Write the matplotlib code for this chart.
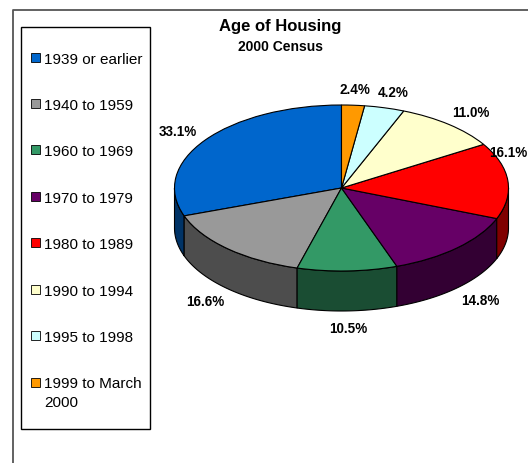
import numpy as np
import matplotlib
matplotlib.use("Agg")
import matplotlib.pyplot as plt
from matplotlib.colors import to_rgb
from matplotlib.lines import Line2D
from matplotlib.patches import Polygon, Rectangle

plt.rcParams["font.family"] = ["Liberation Sans", "DejaVu Sans"]

# --- data -------------------------------------------------------------------
TITLE = "Age of Housing"
SUBTITLE = "2000 Census"
periods = ["1939 or earlier", "1940 to 1959", "1960 to 1969", "1970 to 1979",
           "1980 to 1989", "1990 to 1994", "1995 to 1998", "1999 to March\n2000"]
shares = [33.1, 16.6, 10.5, 14.8, 16.1, 11.0, 4.2, 2.4]
top_colors = ["#0066CC", "#999999", "#339966", "#660066",
              "#FF0000", "#FFFFCC", "#CCFFFF", "#FF9900"]

# --- layout (pixels, origin top-left) ---------------------------------------
W, H = 528, 464
CX, CY = 341.5, 189      # pie centre
RX, RY = 167, 83         # ellipse half-axes
DEPTH = 40               # thickness of the 3-d disc
LINE_STEP = 19           # legend line height for wrapped labels
FRAME = "#555555"


def fx(px):
    return px / W


def fy(py):
    return 1 - py / H


fig = plt.figure(figsize=(W / 100, H / 100), dpi=100)
ax = fig.add_axes([0, 0, 1, 1])

wedges, _ = ax.pie(shares, colors=top_colors, startangle=90, counterclock=True,
                   wedgeprops=dict(edgecolor="black", linewidth=0.8))
# squash the unit circle into the tilted ellipse
ax.set_aspect("auto")
ax.set_xlim(-CX / RX, (W - CX) / RX)
ax.set_ylim((CY - H) / RY, CY / RY)
ax.axis("off")

d = DEPTH / RY

# side walls: only the front half (180..360 deg) is visible
for w, c in zip(wedges, top_colors):
    lo, hi = max(w.theta1, 180), min(w.theta2, 360)
    if hi <= lo:
        continue
    t = np.radians(np.linspace(lo, hi, 80))
    xs, ys = np.cos(t), np.sin(t)
    verts = np.vstack([np.column_stack([xs, ys]),
                       np.column_stack([xs[::-1], ys[::-1] - d])])
    side = tuple(0.5 * v for v in to_rgb(c))
    ax.add_patch(Polygon(verts, closed=True, facecolor=side, edgecolor="black",
                         linewidth=0.8, zorder=0.5))

# data labels, Excel pushed the red one up and inwards
label_nudge = {4: (-33, -27)}
for i, (w, v) in enumerate(zip(wedges, shares)):
    mid = np.radians((w.theta1 + w.theta2) / 2)
    lx, ly = 1.2 * np.cos(mid), 1.2 * np.sin(mid)
    if ly < 0:
        ly -= d
    dx, dy = label_nudge.get(i, (0, 0))
    lx += dx / RX
    ly -= dy / RY
    ax.text(lx, ly, f"{v:.1f}%", ha="center", va="center", fontsize=9.75,
            fontweight="bold", color="black", clip_on=False)

# titles
fig.text(fx(280), fy(27), TITLE, ha="center", va="center", fontsize=12,
         fontweight="bold")
fig.text(fx(280), fy(47), SUBTITLE, ha="center", va="center", fontsize=10,
         fontweight="bold")

# outer chart frame (right and bottom fall outside the crop)
fig.add_artist(Line2D([fx(12.5), fx(12.5), fx(540)], [fy(480), fy(10.5), fy(10.5)],
                      color=FRAME, linewidth=1.3, transform=fig.transFigure))

# legend box
fig.add_artist(Rectangle((fx(21), fy(430)), fx(150) - fx(21), fy(28) - fy(430),
                         transform=fig.transFigure, fill=False,
                         edgecolor="black", linewidth=1.0))
for y, lab, c in zip(np.linspace(58, 383, len(periods)), periods, top_colors):
    fig.add_artist(Rectangle((fx(30.5), fy(y + 4.5)), 9 / W, 9 / H,
                             transform=fig.transFigure, facecolor=c,
                             edgecolor="black", linewidth=0.6))
    # one text per line so the marker sits on the first line
    for k, line in enumerate(lab.split("\n")):
        fig.text(fx(44), fy(y + 5.5 + k * LINE_STEP), line, ha="left",
                 va="baseline", fontsize=11)

fig.savefig("out.png", dpi=100)
